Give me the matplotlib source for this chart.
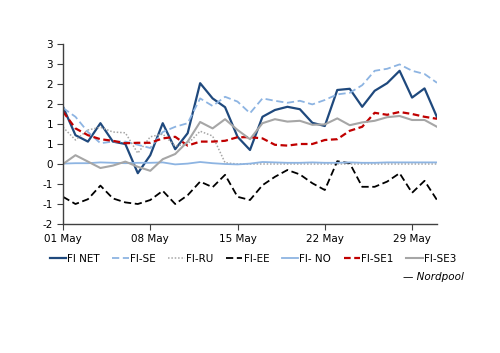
import matplotlib
matplotlib.use("Agg")
import matplotlib.pyplot as plt
import matplotlib.dates as mdates
import pandas as pd
import numpy as np

dates = pd.date_range("2023-05-01", "2023-05-31", freq="D")

fi_net = [1.43, 0.72, 0.56, 1.02, 0.56, 0.50, -0.23, 0.22, 1.02, 0.37, 0.77, 2.02, 1.64, 1.42, 0.68, 0.35,
          1.18, 1.35, 1.43, 1.37, 1.03, 0.95, 1.85, 1.88, 1.43, 1.83, 2.02, 2.33, 1.66, 1.89, 1.17]
fi_se = [1.40, 1.18, 0.80, 0.52, 0.56, 0.56, 0.48, 0.40, 0.80, 0.93, 1.02, 1.64, 1.45, 1.68, 1.56, 1.27,
         1.64, 1.58, 1.53, 1.58, 1.49, 1.60, 1.74, 1.78, 1.97, 2.33, 2.38, 2.49, 2.33, 2.25, 2.03]
fi_ru = [0.92, 0.60, 0.85, 0.92, 0.80, 0.78, 0.27, 0.68, 0.75, 0.45, 0.50, 0.82, 0.70, 0.03, 0.0, 0.0,
         0.0, 0.0, 0.0, 0.0, 0.0, 0.0, 0.0, 0.0, 0.0, 0.0, 0.0, 0.0, 0.0, 0.0, 0.0]
fi_ee = [-0.82, -1.00, -0.88, -0.54, -0.86, -0.96, -1.00, -0.90, -0.67, -1.00, -0.78, -0.44, -0.58, -0.27, -0.82, -0.90,
         -0.53, -0.32, -0.15, -0.26, -0.48, -0.65, 0.07, 0.02, -0.57, -0.57, -0.44, -0.23, -0.72, -0.42, -0.90]
fi_no = [0.01, 0.02, 0.02, 0.04, 0.03, 0.02, 0.03, 0.03, 0.04, -0.01, 0.01, 0.05, 0.02, 0.0, -0.01, 0.01,
         0.05, 0.04, 0.03, 0.03, 0.04, 0.03, 0.03, 0.04, 0.03, 0.03, 0.04, 0.04, 0.04, 0.04, 0.04]
fi_se1 = [1.31, 0.89, 0.72, 0.62, 0.58, 0.52, 0.53, 0.53, 0.64, 0.68, 0.46, 0.56, 0.56, 0.58, 0.67, 0.67,
          0.64, 0.48, 0.46, 0.50, 0.50, 0.60, 0.62, 0.83, 0.93, 1.28, 1.23, 1.30, 1.25, 1.18, 1.13]
fi_se3 = [0.00, 0.22, 0.06, -0.10, -0.04, 0.06, -0.07, -0.17, 0.12, 0.25, 0.56, 1.05, 0.89, 1.12, 0.85, 0.62,
          1.02, 1.12, 1.06, 1.08, 0.98, 0.99, 1.14, 0.97, 1.04, 1.08, 1.17, 1.20, 1.10, 1.10, 0.93]

yticks = [3.0, 2.5, 2.0, 1.5, 1.0, 0.5, 0.0, -0.5, -1.0, -1.5]
ytick_labels = ["3", "3", "2", "2", "1", "1", "0", "-1", "-1", "-2"]
xtick_dates = ["2023-05-01", "2023-05-08", "2023-05-15", "2023-05-22", "2023-05-29"]

fig = plt.figure(figsize=(5.0, 3.53), dpi=100)
ax = fig.add_axes([0.126, 0.3654, 0.748, 0.51])

lb = "#8db4e2"
gr = "#a6a6a6"
l1, = ax.plot(dates, fi_net, color="#1f497d", lw=1.6, label="FI NET")
l2, = ax.plot(dates, fi_se, color=lb, lw=1.3, ls=(0, (4, 2)), label="FI-SE")
l3, = ax.plot(dates, fi_ru, color=gr, lw=1.1, ls=(0, (1, 1.2)), label="FI-RU")
l4, = ax.plot(dates, fi_ee, color="black", lw=1.3, ls=(0, (4, 2)), label="FI-EE")
l5, = ax.plot(dates, fi_no, color=lb, lw=1.3, label="FI- NO")
l6, = ax.plot(dates, fi_se1, color="#c00000", lw=1.6, ls=(0, (3, 1.6)), label="FI-SE1")
l7, = ax.plot(dates, fi_se3, color=gr, lw=1.5, label="FI-SE3")
ax.set_zorder(1)

ax.set_xlim(dates[0], dates[-1])
ax.set_ylim(-1.5, 3.0)
ax.set_yticks(yticks)
ax.set_yticklabels(ytick_labels)
ax.set_xticks(pd.to_datetime(xtick_dates))
ax.xaxis.set_major_formatter(mdates.DateFormatter("%d %b"))

for s in ["top", "right"]:
    ax.spines[s].set_visible(False)
for s in ["left", "bottom"]:
    ax.spines[s].set_color("#404040")
    ax.spines[s].set_linewidth(1.0)
ax.tick_params(axis="both", labelsize=7.5, colors="black", length=4, width=0.8, direction="out", pad=3)
ax.tick_params(axis="both", color="#404040")

fig.legend(handles=[l1, l2, l3, l4, l5, l6, l7], loc="center", bbox_to_anchor=(0.506, 0.266),
           ncol=7, frameon=False, fontsize=7.5, handlelength=1.6, handletextpad=0.1,
           columnspacing=1.2, borderaxespad=0)
fig.text(0.928, 0.215, "\u2014 Nordpool", ha="right", va="center", fontsize=7.5, style="italic")

fig.savefig("out.png", dpi=100)
